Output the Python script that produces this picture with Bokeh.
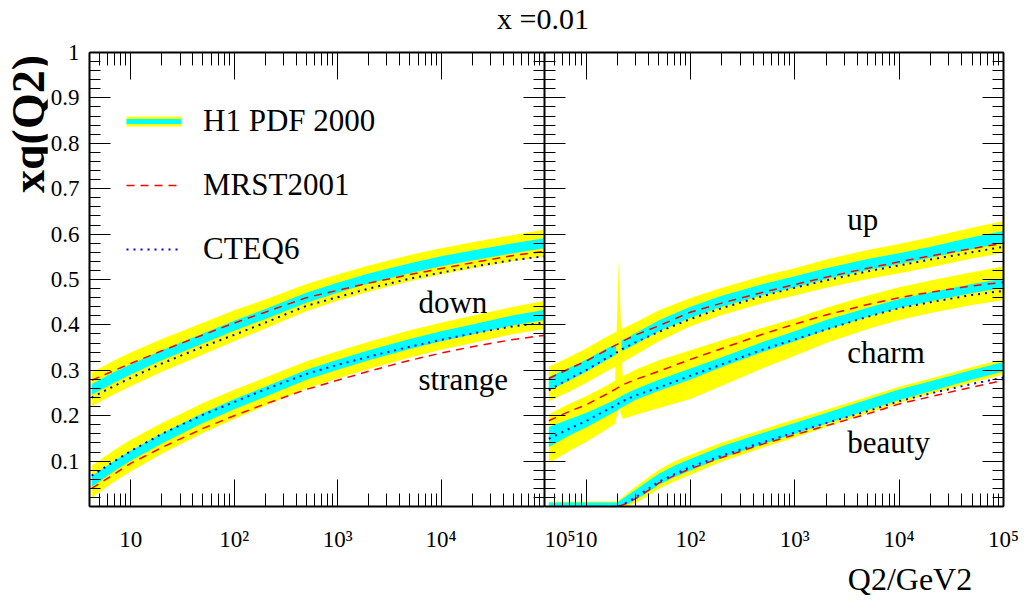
import numpy as np
from bokeh.plotting import figure
from bokeh.models import (LogAxis, LinearAxis, FixedTicker, Label, Legend,
                          LegendItem, Div, Range1d)
from bokeh.layouts import row, column
from bokeh.embed import file_html
from bokeh.resources import INLINE

nan = float("nan")

# ---------------- data ----------------
# left panel: down and strange at x = 0.01
q2_left = [4.2, 7, 10, 20, 50, 100, 200, 500, 1000, 2000, 5000, 1e4, 2e4, 5e4, 1e5]
down_h1 = [0.258, 0.285, 0.302, 0.333, 0.370, 0.398, 0.424, 0.460, 0.482, 0.502, 0.525, 0.540, 0.553, 0.569, 0.580]
down_exp = [0.012, 0.012, 0.011, 0.011, 0.011, 0.011, 0.011, 0.011, 0.011, 0.011, 0.011, 0.011, 0.011, 0.011, 0.011]
down_tot = [0.037, 0.037, 0.037, 0.036, 0.035, 0.034, 0.032, 0.030, 0.029, 0.029, 0.029, 0.029, 0.029, 0.029, 0.030]
down_mrst = [0.278, 0.300, 0.315, 0.343, 0.378, 0.404, 0.428, 0.460, 0.476, 0.492, 0.511, 0.524, 0.537, 0.553, 0.562]
down_cteq = [0.240, 0.266, 0.283, 0.315, 0.352, 0.378, 0.405, 0.442, 0.461, 0.480, 0.502, 0.515, 0.528, 0.543, 0.551]

strange_h1 = [0.055, 0.090, 0.112, 0.150, 0.195, 0.225, 0.253, 0.290, 0.312, 0.333, 0.358, 0.375, 0.390, 0.410, 0.422]
strange_exp = [0.012, 0.011, 0.011, 0.011, 0.011, 0.011, 0.011, 0.011, 0.011, 0.011, 0.011, 0.011, 0.011, 0.011, 0.011]
strange_tot = [0.035, 0.035, 0.035, 0.034, 0.033, 0.032, 0.031, 0.030, 0.030, 0.030, 0.030, 0.030, 0.030, 0.030, 0.031]
strange_mrst = [0.040, 0.072, 0.095, 0.130, 0.172, 0.200, 0.226, 0.258, 0.278, 0.298, 0.322, 0.338, 0.352, 0.368, 0.377]
strange_cteq = [0.068, 0.100, 0.122, 0.160, 0.202, 0.230, 0.258, 0.292, 0.312, 0.330, 0.352, 0.367, 0.381, 0.397, 0.405]

# right panel: up and charm
q2_right = [4.4, 7, 10, 15, 19, 20.6, 22.4, 30, 50, 100, 200, 500, 1000, 2000, 5000, 1e4, 2e4, 5e4, 1e5]
up_h1 = [0.270, 0.292, 0.310, 0.333, 0.345, 0.350, 0.355, 0.370, 0.398, 0.428, 0.452, 0.478, 0.495, 0.513, 0.533, 0.546, 0.560, 0.580, 0.594]
up_exp = [0.015, 0.014, 0.013, 0.013, 0.012, 0.012, 0.012, 0.012, 0.012, 0.012, 0.012, 0.012, 0.012, 0.012, 0.012, 0.012, 0.012, 0.013, 0.013]
up_tot = [0.038, 0.038, 0.038, 0.038, 0.038, 0.038, 0.037, 0.036, 0.034, 0.031, 0.030, 0.030, 0.030, 0.031, 0.032, 0.032, 0.033, 0.034, 0.035]
up_mrst = [0.282, 0.304, 0.320, 0.342, 0.355, 0.359, 0.364, 0.378, 0.398, 0.428, 0.448, 0.472, 0.489, 0.505, 0.525, 0.539, 0.552, 0.568, 0.580]
up_cteq = [0.256, 0.282, 0.300, 0.324, 0.337, 0.342, 0.347, 0.362, 0.385, 0.413, 0.437, 0.464, 0.482, 0.498, 0.518, 0.531, 0.544, 0.560, 0.572]

charm_h1 = [0.153, 0.175, 0.190, 0.210, 0.222, 0.227, 0.232, 0.247, 0.267, 0.292, 0.318, 0.352, 0.375, 0.400, 0.428, 0.447, 0.462, 0.480, 0.492]
charm_exp = [0.022, 0.018, 0.016, 0.014, 0.013, 0.013, 0.013, 0.012, 0.012, 0.012, 0.011, 0.011, 0.011, 0.011, 0.010, 0.010, 0.010, 0.010, 0.010]
charm_tot_up = [0.050, 0.052, 0.053, 0.054, 0.055, 0.315, 0.055, 0.055, 0.055, 0.052, 0.048, 0.042, 0.039, 0.038, 0.037, 0.036, 0.036, 0.036, 0.037]
charm_tot_dn = [0.058, 0.052, 0.048, 0.043, 0.040, 0.009, 0.039, 0.045, 0.050, 0.055, 0.052, 0.047, 0.043, 0.040, 0.037, 0.036, 0.036, 0.036, 0.037]
charm_mrst = [0.189, 0.210, 0.224, 0.245, 0.258, 0.263, 0.268, 0.280, 0.298, 0.324, 0.348, 0.380, 0.402, 0.422, 0.445, 0.460, 0.472, 0.486, 0.494]
charm_cteq = [0.149, 0.172, 0.188, 0.210, 0.222, 0.227, 0.232, 0.245, 0.262, 0.288, 0.313, 0.346, 0.368, 0.390, 0.418, 0.437, 0.450, 0.466, 0.475]

# right panel: beauty (zero below threshold)
q2_beauty = [4.4, 20.0, 20.6, 25, 30, 40, 50, 70, 100, 200, 500, 1000, 2000, 5000, 1e4, 2e4, 5e4, 1e5]
beauty_h1 = [0.0045, 0.0045, 0.006, 0.015, 0.026, 0.045, 0.060, 0.077, 0.092, 0.120, 0.150, 0.172, 0.194, 0.224, 0.246, 0.265, 0.290, 0.308]
beauty_exp = [0.0045, 0.0045, 0.005, 0.010, 0.011, 0.012, 0.012, 0.0125, 0.0125, 0.0125, 0.0125, 0.012, 0.012, 0.0115, 0.0115, 0.011, 0.0105, 0.0105]
beauty_tot = [0.0065, 0.0065, 0.008, 0.015, 0.018, 0.020, 0.021, 0.022, 0.022, 0.021, 0.020, 0.020, 0.019, 0.018, 0.018, 0.017, 0.017, 0.017]
beauty_mrst = [nan, nan, 0.000, 0.008, 0.018, 0.036, 0.052, 0.068, 0.083, 0.108, 0.138, 0.158, 0.178, 0.204, 0.226, 0.242, 0.263, 0.278]
beauty_cteq = [nan, nan, 0.000, 0.010, 0.021, 0.040, 0.055, 0.071, 0.087, 0.112, 0.142, 0.163, 0.184, 0.210, 0.232, 0.249, 0.270, 0.284]

# axes
x_major = [10, 100, 1000, 10000, 100000]
x_major_labels = ["10", "10\u00b2", "10\u00b3", "10\u2074", "10\u2075"]
y_major = [0.0, 0.1, 0.2, 0.3, 0.4, 0.5, 0.6, 0.7, 0.8, 0.9, 1.0]
y_major_labels = ["", "0.1", "0.2", "0.3", "0.4", "0.5", "0.6", "0.7", "0.8", "0.9", "1"]

legend_labels = ["H1 PDF 2000", "MRST2001", "CTEQ6"]
title_text = "x =0.01"
y_title = "xq(Q2)"
x_title = "Q2/GeV2"

# ---------------- styling ----------------
FONT = "Liberation Serif"
YELLOW = "#ffff00"
CYAN = "#00ffff"
RED = "#ff0000"
BLUE = "#0000ff"
NB = "\u00a0"

x_minor = [m * 10.0 ** k for k in range(0, 5) for m in range(2, 10) if 4 <= m * 10.0 ** k <= 1e5]
y_minor = [round(v, 3) for v in np.arange(0, 1.0001, 0.02)]


def make_fig(width, bl, br):
    p = figure(width=width, height=565, x_axis_type="log",
               x_range=Range1d(4, 1e5), y_range=Range1d(0, 1),
               output_backend="svg", toolbar_location=None, tools="",
               min_border_left=bl, min_border_right=br,
               min_border_top=18, min_border_bottom=90)
    p.grid.visible = False
    p.outline_line_color = None
    p.background_fill_color = "white"
    p.border_fill_color = "white"
    return p


def style_common(ax):
    ax.axis_line_width = 2
    ax.axis_line_color = "black"
    ax.major_tick_line_color = "black"
    ax.minor_tick_line_color = "black"
    ax.major_tick_out = 0
    ax.minor_tick_out = 0
    ax.major_label_text_font = FONT
    ax.major_label_text_color = "black"


def style_x(ax, overrides=None, ticks=None):
    ax.ticker = FixedTicker(ticks=ticks or x_major, minor_ticks=x_minor)
    ax.major_tick_in = 27
    ax.minor_tick_in = 13
    style_common(ax)
    if overrides is None:
        ax.major_label_overrides = {t: "" for t in x_major}
        ax.major_label_text_font_size = "1px"
        ax.major_label_standoff = 0
    else:
        ax.major_label_overrides = overrides
        ax.major_label_text_font_size = "23px"
        ax.major_label_standoff = 20


def style_y(ax, labels=False):
    ax.ticker = FixedTicker(ticks=y_major, minor_ticks=y_minor)
    ax.major_tick_in = 21
    ax.minor_tick_in = 11
    style_common(ax)
    if labels:
        ax.major_label_overrides = dict(zip(y_major, y_major_labels))
        ax.major_label_text_font_size = "23px"
        ax.major_label_standoff = 10
    else:
        ax.major_label_overrides = {t: "" for t in y_major}
        ax.major_label_text_font_size = "1px"
        ax.major_label_standoff = 0


def band(p, x, c, err_up, err_dn, color):
    lo = [ci - ei for ci, ei in zip(c, err_dn)]
    hi = [ci + ei for ci, ei in zip(c, err_up)]
    return p.varea(x=x, y1=lo, y2=hi, fill_color=color, fill_alpha=1.0)


def mrst(p, x, y):
    return p.line(x=x, y=y, line_color=RED, line_width=1.5, line_dash="8 6")


def cteq(p, x, y):
    return p.line(x=x, y=y, line_color=BLUE, line_width=2, line_dash="2 5")


def text_label(p, x, y, txt, size="31px"):
    p.add_layout(Label(x=x, y=y, text=txt, text_font=FONT, text_font_size=size,
                       text_color="black", text_baseline="middle", text_align="left"))


# ---------------- left panel ----------------
p1 = make_fig(497, 39, 0)
left_labels = dict(zip(x_major, x_major_labels))
left_labels[100000] = ""                      # the junction 10^5 label is drawn by the right panel
style_x(p1.below[0], left_labels)
style_y(p1.left[0], labels=True)
top1 = LogAxis()
style_x(top1)
p1.add_layout(top1, "above")
right1 = LinearAxis()
style_y(right1)
p1.add_layout(right1, "right")

band(p1, q2_left, down_h1, down_tot, down_tot, YELLOW)
band(p1, q2_left, down_h1, down_exp, down_exp, CYAN)
band(p1, q2_left, strange_h1, strange_tot, strange_tot, YELLOW)
band(p1, q2_left, strange_h1, strange_exp, strange_exp, CYAN)
mrst(p1, q2_left, down_mrst)
cteq(p1, q2_left, down_cteq)
mrst(p1, q2_left, strange_mrst)
cteq(p1, q2_left, strange_cteq)

# legend (glyph-only renderers for the key, placed outside the ranges)
leg_y = p1.line(x=[1e6], y=[2.0], line_color=YELLOW, line_width=10)
leg_c = p1.line(x=[1e6], y=[2.0], line_color=CYAN, line_width=5)
leg_r = p1.line(x=[1e6], y=[2.0], line_color=RED, line_width=1.5, line_dash="8 6")
leg_b = p1.line(x=[1e6], y=[2.0], line_color=BLUE, line_width=2, line_dash="2 5")
legend = Legend(items=[LegendItem(label=legend_labels[0], renderers=[leg_y, leg_c]),
                       LegendItem(label=legend_labels[1], renderers=[leg_r]),
                       LegendItem(label=legend_labels[2], renderers=[leg_b])],
                location=(37, 239), glyph_width=55, glyph_height=30, label_height=30,
                label_standoff=22, spacing=28, padding=0, margin=0,
                border_line_color=None, background_fill_alpha=0,
                label_text_font=FONT, label_text_font_size="31px",
                label_text_color="black")
p1.add_layout(legend, "center")

text_label(p1, 6050, 0.449, "down")
text_label(p1, 6050, 0.280, "strange")

# ---------------- right panel ----------------
p2 = make_fig(479, 0, 20)
right_labels = dict(zip(x_major, x_major_labels))
right_labels[4] = x_major_labels[-1]          # 10^5 at the junction of the two panels
style_x(p2.below[0], right_labels, ticks=[4] + x_major)
style_y(p2.left[0])
top2 = LogAxis()
style_x(top2)
p2.add_layout(top2, "above")
right2 = LinearAxis()
style_y(right2)
p2.add_layout(right2, "right")

band(p2, q2_right, up_h1, up_tot, up_tot, YELLOW)
band(p2, q2_right, up_h1, up_exp, up_exp, CYAN)
band(p2, q2_right, charm_h1, charm_tot_up, charm_tot_dn, YELLOW)
band(p2, q2_right, charm_h1, charm_exp, charm_exp, CYAN)
band(p2, q2_beauty, beauty_h1, beauty_tot, beauty_tot, YELLOW)
band(p2, q2_beauty, beauty_h1, beauty_exp, beauty_exp, CYAN)
mrst(p2, q2_right, up_mrst)
cteq(p2, q2_right, up_cteq)
mrst(p2, q2_right, charm_mrst)
cteq(p2, q2_right, charm_cteq)
mrst(p2, q2_beauty, beauty_mrst)
cteq(p2, q2_beauty, beauty_cteq)

text_label(p2, 3190, 0.632, "up")
text_label(p2, 3190, 0.339, "charm")
text_label(p2, 3190, 0.142, "beauty")

# x-axis title, pushed to the right like the reference
xa = p2.below[0]
xa.axis_label_text_font = FONT
xa.axis_label_text_font_size = "32px"
xa.axis_label_text_font_style = "normal"
xa.axis_label_text_color = "black"
xa.axis_label_standoff = 6
xa.axis_label = NB * 34 + x_title

# ---------------- titles as HTML text ----------------
title_div = Div(text=('<div style="font-family:\'Liberation Serif\';font-size:30px;'
                      'line-height:30px;padding-top:4px;text-align:center;width:1023px;'
                      'padding-left:63px;box-sizing:border-box;color:black;'
                      'white-space:nowrap;">' + title_text + '</div>'),
                width=1023, height=34, margin=(0, 0, 0, 0))

ylab_div = Div(text=('<div style="width:185px;height:44px;line-height:44px;text-align:center;'
                     'font-family:\'Liberation Serif\';font-weight:bold;font-size:46px;'
                     'color:black;white-space:nowrap;transform-origin:50% 50%;'
                     'transform:translate(-63.5px, 68px) rotate(-90deg);">' + y_title + '</div>'),
               width=47, height=565, margin=(0, 0, 0, 0), styles={"overflow": "visible"})

layout = column(title_div, row(ylab_div, p1, p2))
open("out.html", "w").write(file_html(layout, INLINE))
